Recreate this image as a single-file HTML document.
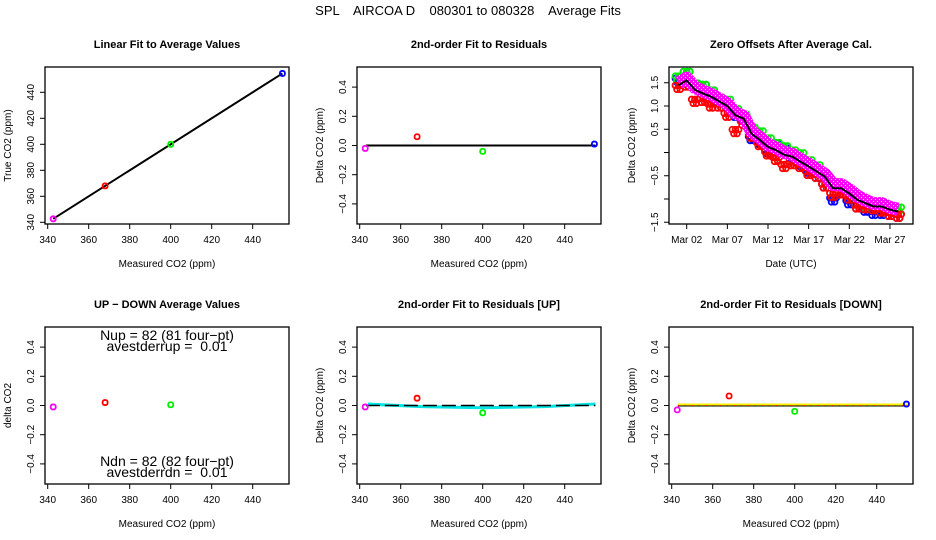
<!DOCTYPE html>
<html><head><meta charset="utf-8"><style>
html,body{margin:0;padding:0;background:#fff}
svg{display:block;font-family:"Liberation Sans",sans-serif}
</style></head><body>
<svg id="c" width="936" height="540" viewBox="0 0 936 540"></svg>
<script>
// ---- data ----
const co2Levels = [342.7, 368, 400, 454.5];
const tankColors = ['#ff00ff', '#ff0000', '#00ee00', '#0000ff'];
const trueValues = [342.7, 368, 400, 454.5];
const residAll = [-0.02, 0.06, -0.04, 0.01];
const upDownDiff = [-0.01, 0.02, 0.005];
const residUp = [-0.01, 0.05, -0.05];
const residDown = [-0.03, 0.065, -0.04, 0.01];
const fitUpX = [344, 370, 400, 430, 455];
const fitUpY = [0.01, -0.008, -0.015, -0.008, 0.01];
const co2Ticks = [340, 360, 380, 400, 420, 440];
const trueTicks = [340, 360, 380, 400, 420, 440];
const residTicks = [-0.4, -0.2, 0.0, 0.2, 0.4];
const residTickLabels = ['\u22120.4', '\u22120.2', '0.0', '0.2', '0.4'];
const days = [1,2,3,4,5,6,7,8,9,10,11,12,13,14,15,16,17,18,19,20,21,22,23,24,25,26,27,28];
const meanOffset = [1.45,1.55,1.35,1.27,1.2,1.1,1.0,0.8,0.73,0.4,0.27,0.12,0.05,-0.05,-0.09,-0.2,-0.3,-0.41,-0.52,-0.77,-0.77,-0.88,-1.02,-1.09,-1.16,-1.16,-1.23,-1.27];
const redDev = [-0.05,-0.1,-0.25,-0.15,-0.2,-0.1,-0.2,-0.35,-0.1,-0.05,-0.1,-0.15,-0.2,-0.25,-0.15,-0.1,-0.15,-0.1,-0.2,-0.15,-0.1,-0.1,-0.15,-0.1,-0.05,-0.1,-0.1,-0.1];
const greenDev = [0.15,0.15,0.1,0.15,0.1,0.05,0.1,0.1,0.05,0.1,0.15,0.15,0.12,0.15,0.1,0.15,0.1,0.1,0,0.1,0.05,0.05,0.05,-0.05,0.05,0.05,0.05,0.05];
const blueDev = [0.1,0.15,0.05,0.15,0.1,0,0,0,0,-0.1,-0.05,-0.1,0.1,0.1,0,-0.05,-0.1,-0.1,-0.2,-0.25,-0.1,-0.2,-0.15,-0.15,-0.15,-0.15,-0.1,-0.1];
const magentaDev = [0.05,0.05,0.05,0.05,0.05,0.05,0.05,0.05,0.05,0.05,0.05,0.05,0.05,0.05,0.05,0.05,0.05,0.05,0.05,0.08,0.08,0.08,0.08,0.06,0.06,0.06,0.05,0.05];
const zeroTicks = [-1.5,-1.0,-0.5,0.0,0.5,1.0,1.5];
const zeroTickLabels = ['\u22121.5','','\u22120.5','','0.5','1.0','1.5'];
const dateTicks = [2,7,12,17,22,27];
const dateTickLabels = ['Mar 02','Mar 07','Mar 12','Mar 17','Mar 22','Mar 27'];

const NS='http://www.w3.org/2000/svg';
const svg=document.getElementById('c');
function el(tag,attrs,parent){const e=document.createElementNS(NS,tag);for(const k in attrs)e.setAttribute(k,attrs[k]);(parent||svg).appendChild(e);return e;}
function txt(s,attrs,parent){const e=el('text',attrs,parent);e.textContent=s;return e;}

const defs=el('defs',{});
const pat=el('pattern',{id:'hatch',width:4,height:4,patternUnits:'userSpaceOnUse'},defs);
el('rect',{x:0,y:0,width:4,height:4,fill:'#ff00ff'},pat);
el('rect',{x:1,y:1,width:1,height:1,fill:'#fff'},pat);
el('rect',{x:3,y:3,width:1,height:1,fill:'#fff'},pat);

const t=txt('SPL    AIRCOA D    080301 to 080328    Average Fits',{x:468,y:15,'font-size':13,'text-anchor':'middle',style:'white-space:pre'});



const W=244,H=157;
function panel(name,L,T,title,xlab,ylab){
  const g=el('g',{});
  
  
  const tt=txt(title,{x:L+W/2,y:T-19,'font-size':11,'font-weight':'bold','text-anchor':'middle'},g);
  
  
  const b=el('rect',{x:L,y:T,width:W,height:H,fill:'none',stroke:'#000','stroke-width':1.3},g);
  
  
  const xt=txt(xlab,{x:L+W/2,y:T+H+43,'font-size':10,'text-anchor':'middle'},g);
  
  
  const yx=L-34,yy=T+H/2;
  const yt=txt(ylab,{x:yx,y:yy,'font-size':10,'text-anchor':'middle',transform:`rotate(-90 ${yx} ${yy})`},g);
  
  
  return g;
}
function xTicks(g,L,T,vals,labels,fx){
  vals.forEach((v,i)=>{const x=fx(v);
    el('line',{x1:x,x2:x,y1:T+H,y2:T+H+5,stroke:'#000'},g);
    const l=txt(labels[i],{x:x,y:T+H+19,'font-size':10,'text-anchor':'middle'},g);
    
    
  });
}
function yTicks(g,L,vals,labels,fy){
  vals.forEach((v,i)=>{const y=fy(v);
    el('line',{x1:L,x2:L-5,y1:y,y2:y,stroke:'#000'},g);
    if(labels[i]!==''){
      const x=L-11;
      const l=txt(labels[i],{x:x,y:y,'font-size':10,'text-anchor':'middle',transform:`rotate(-90 ${x} ${y})`},g);
      
      
    }
  });
}
function pt(g,x,y,c){
  const p=el('rect',{x:x-2.5,y:y-2.5,width:5,height:5,rx:2,fill:'none',stroke:c,'stroke-width':1.8},g);
  
  
}
const co2x=L=>v=>L+2.7+(v-340)*2.05;
const residY=T=>v=>T+78.5-v*146;
const co2Labels=co2Ticks.map(String);

// Panel 1
{const L=45,T=67,g=panel('linear-fit-panel',L,T,'Linear Fit to Average Values','Measured CO2 (ppm)','True CO2 (ppm)');
 const fx=co2x(L),fy=v=>T+155.3-(v-340)*1.3;
 xTicks(g,L,T,co2Ticks,co2Labels,fx);yTicks(g,L,trueTicks,trueTicks.map(String),fy);
 const ln=el('line',{x1:fx(co2Levels[0]),y1:fy(trueValues[0]),x2:fx(co2Levels[3]),y2:fy(trueValues[3]),stroke:'#000','stroke-width':2},g);
 
 
 co2Levels.forEach((v,i)=>pt(g,fx(v),fy(trueValues[i]),tankColors[i]));}

// Panel 2
{const L=357,T=67,g=panel('residuals-panel',L,T,'2nd-order Fit to Residuals','Measured CO2 (ppm)','Delta CO2 (ppm)');
 const fx=co2x(L),fy=residY(T);
 xTicks(g,L,T,co2Ticks,co2Labels,fx);yTicks(g,L,residTicks,residTickLabels,fy);
 const ln=el('line',{x1:fx(343),y1:fy(0),x2:fx(455),y2:fy(0),stroke:'#000','stroke-width':2},g);
 
 
 co2Levels.forEach((v,i)=>pt(g,fx(v),fy(residAll[i]),tankColors[i]));}

// Panel 3
{const L=669,T=67,g=panel('zero-offsets-panel',L,T,'Zero Offsets After Average Cal.','Date (UTC)','Delta CO2 (ppm)');
 const fx=d=>L+17.7+(d-2)*8.13,fy=v=>T+85.5-v*46.5;
 xTicks(g,L,T,dateTicks,dateTickLabels,fx);yTicks(g,L,zeroTicks,zeroTickLabels,fy);
 const series=[[blueDev,'#0000ff'],[greenDev,'#00ee00'],[redDev,'#ff0000']];
 series.forEach(([dev,c],si)=>{days.forEach((d,i)=>{[-0.4,-0.2,0,0.2,0.4].forEach((o,k)=>{
   const cc=el('circle',{cx:fx(d+o),cy:fy(meanOffset[i]+dev[i])+((k%2)?2:-2),r:2.8,fill:'none',stroke:c,'stroke-width':1.8},g);
   
   });});});
 const mp=el('polyline',{points:days.map((d,i)=>fx(d)+','+fy(meanOffset[i]+magentaDev[i])).join(' '),fill:'none',stroke:'url(#hatch)','stroke-width':13,'stroke-linejoin':'round'},g);
 
 
 const bl=el('polyline',{points:days.map((d,i)=>fx(d)+','+fy(meanOffset[i])).join(' '),fill:'none',stroke:'#000','stroke-width':2},g);
 
 }

// Panel 4
{const L=45,T=327,g=panel('up-down-panel',L,T,'UP \u2212 DOWN Average Values','Measured CO2 (ppm)','delta CO2');
 const fx=co2x(L),fy=residY(T);
 xTicks(g,L,T,co2Ticks,co2Labels,fx);yTicks(g,L,residTicks,residTickLabels,fy);
 upDownDiff.forEach((v,i)=>pt(g,fx(co2Levels[i]),fy(v),tankColors[i]));
 [['Nup = 82 (81 four\u2212pt)',13],['avestderrup =  0.01',24],['Ndn = 82 (82 four\u2212pt)',139],['avestderrdn =  0.01',150]].forEach(([s,dy])=>{
   const a=txt(s,{x:L+W/2,y:T+dy,'font-size':14,'text-anchor':'middle',style:'white-space:pre'},g);
   
   });}

// Panel 5
{const L=357,T=327,g=panel('residuals-up-panel',L,T,'2nd-order Fit to Residuals [UP]','Measured CO2 (ppm)','Delta CO2 (ppm)');
 const fx=co2x(L),fy=residY(T);
 xTicks(g,L,T,co2Ticks,co2Labels,fx);yTicks(g,L,residTicks,residTickLabels,fy);
 const cy=el('polyline',{points:fitUpX.map((v,i)=>fx(v)+','+fy(fitUpY[i])).join(' '),fill:'none',stroke:'#00e5e5','stroke-width':3},g);
 
 
 const ln=el('line',{x1:fx(343),y1:fy(0),x2:fx(455),y2:fy(0),stroke:'#000','stroke-width':1.5,'stroke-dasharray':'14 5'},g);
 
 
 residUp.forEach((v,i)=>pt(g,fx(co2Levels[i]),fy(v),tankColors[i]));}

// Panel 6
{const L=669,T=327,g=panel('residuals-down-panel',L,T,'2nd-order Fit to Residuals [DOWN]','Measured CO2 (ppm)','Delta CO2 (ppm)');
 const fx=co2x(L),fy=residY(T);
 xTicks(g,L,T,co2Ticks,co2Labels,fx);yTicks(g,L,residTicks,residTickLabels,fy);
 const ln=el('line',{x1:fx(343),y1:fy(0),x2:fx(455),y2:fy(0),stroke:'#000','stroke-width':2},g);
 
 
 const yl=el('line',{x1:fx(343),y1:fy(0)-1,x2:fx(455),y2:fy(0)-1,stroke:'#ffee00','stroke-width':2},g);
 
 
 const rd=el('line',{x1:fx(343),y1:fy(0),x2:fx(455),y2:fy(0),stroke:'#ff0000','stroke-width':1,'stroke-dasharray':'1 6'},g);
 
 
 residDown.forEach((v,i)=>pt(g,fx(co2Levels[i]),fy(v),tankColors[i]));}
</script>
</body></html>
